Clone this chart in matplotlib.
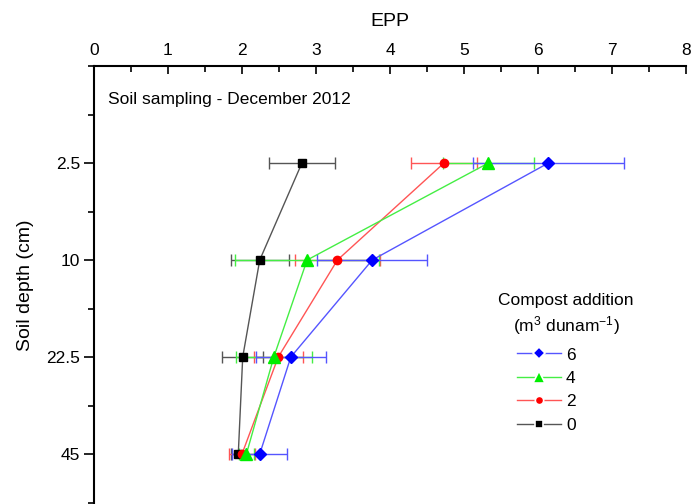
import matplotlib.pyplot as plt
from matplotlib.lines import Line2D
from matplotlib.ticker import MultipleLocator

plt.rcParams['font.family'] = ['Liberation Sans', 'DejaVu Sans']
plt.rcParams['mathtext.fontset'] = 'custom'
plt.rcParams['mathtext.rm'] = 'Liberation Sans'
plt.rcParams['mathtext.default'] = 'regular'

# soil depth classes (cm) and their slot on the y axis
depths = ['2.5', '10', '22.5', '45']
depth_pos = [1, 2, 3, 4]

# EPP means and error (+/-) per compost addition rate (m3 dunam-1)
epp_0 = [2.81, 2.24, 2.01, 1.95]
err_0 = [0.45, 0.39, 0.28, 0.10]
epp_2 = [4.73, 3.29, 2.49, 2.00]
err_2 = [0.45, 0.57, 0.33, 0.17]
epp_4 = [5.33, 2.88, 2.43, 2.06]
err_4 = [0.61, 0.97, 0.51, 0.10]
epp_6 = [6.14, 3.76, 2.66, 2.24]
err_6 = [1.02, 0.74, 0.47, 0.37]

fig = plt.figure(figsize=(6.92, 5.04), dpi=100)
ax = fig.add_axes([0.1358, 0.0, 0.8555, 0.869])

series = [
    ('0', epp_0, err_0, '#000000', '#555555', 's', 6),
    ('2', epp_2, err_2, '#ff0000', '#ff5555', 'o', 6),
    ('4', epp_4, err_4, '#00ee00', '#44ee44', '^', 8),
    ('6', epp_6, err_6, '#0000ff', '#5555ff', 'D', 6.5),
]
handles = {}
for i, (lab, vals, errs, mc, lc, mk, ms) in enumerate(series):
    ax.errorbar(vals, depth_pos, xerr=errs, fmt='none', ecolor=lc,
                elinewidth=1.0, capsize=4, capthick=1.0, zorder=2 + i)
    ax.plot(vals, depth_pos, color=lc, lw=1.0, marker=mk, ms=ms,
            mfc=mc, mec=mc, zorder=6 + i)
    # legend entry: marker with a small white gap to the line
    handles[lab] = Line2D([], [], color=lc, lw=1.0, marker=mk, ms=ms,
                          mfc=mc, mec='white', mew=1.2)

ax.set_xlim(0, 8)
ax.set_ylim(4.515, 0)
ax.xaxis.tick_top()
ax.xaxis.set_label_position('top')
ax.xaxis.set_major_locator(MultipleLocator(1))
ax.xaxis.set_minor_locator(MultipleLocator(0.5))
ax.set_yticks(depth_pos)
ax.set_yticklabels(depths)
ax.yaxis.set_minor_locator(MultipleLocator(0.5))
ax.tick_params(axis='x', which='major', direction='in', length=6, width=1.2, labelsize=12.5, pad=6)
ax.tick_params(axis='x', which='minor', direction='in', length=4, width=1.2)
ax.tick_params(axis='y', which='major', direction='out', length=7, width=1.2, labelsize=12.5, pad=3)
ax.tick_params(axis='y', which='minor', direction='out', length=4.5, width=1.2)
for s in ['right', 'bottom']:
    ax.spines[s].set_visible(False)
for s in ['left', 'top']:
    ax.spines[s].set_linewidth(1.5)

ax.set_xlabel('EPP', fontsize=14, labelpad=12)
ax.set_ylabel('Soil depth (cm)', fontsize=14, labelpad=9)

ax.text(0.19, 0.35, 'Soil sampling - December 2012', fontsize=12.5, va='center')

fig.text(0.72, 0.404, 'Compost addition', fontsize=12.5, ha='left', va='center')
fig.text(0.742, 0.355, '(m$^{3}$ dunam$^{-1}$)', fontsize=12.5, ha='left', va='center')
ax.legend([handles[k] for k in ['6', '4', '2', '0']], ['6', '4', '2', '0'],
          loc='upper left', bbox_to_anchor=(0.735, 0.328), bbox_transform=fig.transFigure,
          frameon=False, fontsize=12.5, handlelength=2.5, handletextpad=0.3,
          labelspacing=0.48, borderpad=0)

fig.savefig('out.png', dpi=100)
